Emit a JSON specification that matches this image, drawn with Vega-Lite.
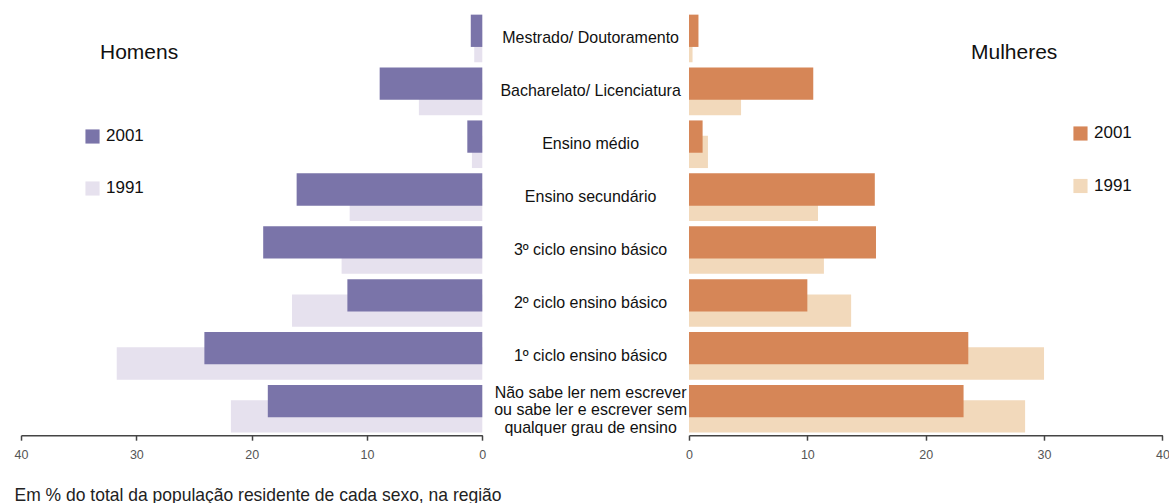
{
  "$schema": "https://vega.github.io/schema/vega-lite/v6.json",
  "padding": {"left": 14, "top": 12, "right": 0, "bottom": 0},
  "bounds": "flush",
  "spacing": 0,
  "config": {
    "view": {"stroke": null},
    "font": "Liberation Sans",
    "axis": {
      "domainColor": "#444", "domainWidth": 1.5, "tickColor": "#444", "tickWidth": 1.5, "tickSize": 5,
      "labelColor": "#555", "labelFontSize": 12.5, "labelPadding": 8, "grid": false, "labelFlush": false
    }
  },
  "resolve": {"scale": {"color": "independent"}, "legend": {"color": "independent"}},
  "data": {"values": [
    {"sexo": "Homens", "ano": "2001", "nivel": "Mestrado/ Doutoramento", "valor": 1.0},
    {"sexo": "Homens", "ano": "2001", "nivel": "Bacharelato/ Licenciatura", "valor": 8.9},
    {"sexo": "Homens", "ano": "2001", "nivel": "Ensino médio", "valor": 1.3},
    {"sexo": "Homens", "ano": "2001", "nivel": "Ensino secundário", "valor": 16.1},
    {"sexo": "Homens", "ano": "2001", "nivel": "3º ciclo ensino básico", "valor": 19.0},
    {"sexo": "Homens", "ano": "2001", "nivel": "2º ciclo ensino básico", "valor": 11.7},
    {"sexo": "Homens", "ano": "2001", "nivel": "1º ciclo ensino básico", "valor": 24.1},
    {"sexo": "Homens", "ano": "2001", "nivel": "Não sabe ler nem escrever\nou sabe ler e escrever sem\nqualquer grau de ensino", "valor": 18.6},
    {"sexo": "Homens", "ano": "1991", "nivel": "Mestrado/ Doutoramento", "valor": 0.7},
    {"sexo": "Homens", "ano": "1991", "nivel": "Bacharelato/ Licenciatura", "valor": 5.5},
    {"sexo": "Homens", "ano": "1991", "nivel": "Ensino médio", "valor": 0.9},
    {"sexo": "Homens", "ano": "1991", "nivel": "Ensino secundário", "valor": 11.5},
    {"sexo": "Homens", "ano": "1991", "nivel": "3º ciclo ensino básico", "valor": 12.2},
    {"sexo": "Homens", "ano": "1991", "nivel": "2º ciclo ensino básico", "valor": 16.5},
    {"sexo": "Homens", "ano": "1991", "nivel": "1º ciclo ensino básico", "valor": 31.7},
    {"sexo": "Homens", "ano": "1991", "nivel": "Não sabe ler nem escrever\nou sabe ler e escrever sem\nqualquer grau de ensino", "valor": 21.8},
    {"sexo": "Mulheres", "ano": "2001", "nivel": "Mestrado/ Doutoramento", "valor": 0.8},
    {"sexo": "Mulheres", "ano": "2001", "nivel": "Bacharelato/ Licenciatura", "valor": 10.5},
    {"sexo": "Mulheres", "ano": "2001", "nivel": "Ensino médio", "valor": 1.15},
    {"sexo": "Mulheres", "ano": "2001", "nivel": "Ensino secundário", "valor": 15.7},
    {"sexo": "Mulheres", "ano": "2001", "nivel": "3º ciclo ensino básico", "valor": 15.8},
    {"sexo": "Mulheres", "ano": "2001", "nivel": "2º ciclo ensino básico", "valor": 10.0},
    {"sexo": "Mulheres", "ano": "2001", "nivel": "1º ciclo ensino básico", "valor": 23.6},
    {"sexo": "Mulheres", "ano": "2001", "nivel": "Não sabe ler nem escrever\nou sabe ler e escrever sem\nqualquer grau de ensino", "valor": 23.2},
    {"sexo": "Mulheres", "ano": "1991", "nivel": "Mestrado/ Doutoramento", "valor": 0.3},
    {"sexo": "Mulheres", "ano": "1991", "nivel": "Bacharelato/ Licenciatura", "valor": 4.4},
    {"sexo": "Mulheres", "ano": "1991", "nivel": "Ensino médio", "valor": 1.6},
    {"sexo": "Mulheres", "ano": "1991", "nivel": "Ensino secundário", "valor": 10.9},
    {"sexo": "Mulheres", "ano": "1991", "nivel": "3º ciclo ensino básico", "valor": 11.4},
    {"sexo": "Mulheres", "ano": "1991", "nivel": "2º ciclo ensino básico", "valor": 13.7},
    {"sexo": "Mulheres", "ano": "1991", "nivel": "1º ciclo ensino básico", "valor": 30.0},
    {"sexo": "Mulheres", "ano": "1991", "nivel": "Não sabe ler nem escrever\nou sabe ler e escrever sem\nqualquer grau de ensino", "valor": 28.4}
  ]},
  "hconcat": [
    {
      "width": 461.3,
      "height": 423.2,
      "title": {"text": "Homens", "anchor": "start", "frame": "group", "offset": -68, "dx": 79, "fontSize": 21, "fontWeight": "normal", "baseline": "alphabetic", "color": "#111"},
      "transform": [{"filter": "datum.sexo === 'Homens'"}],
      "encoding": {
        "y": {"field": "nivel", "type": "nominal", "sort": null, "scale": {"paddingInner": 0.092, "paddingOuter": 0.046}, "axis": null},
        "yOffset": {"field": "ano", "type": "nominal", "scale": {"domain": ["2001", "1991"], "paddingInner": 0, "paddingOuter": 0.567}},
        "x": {"field": "valor", "type": "quantitative", "scale": {"domain": [0, 40], "reverse": true, "nice": false},
          "axis": {"values": [0, 10, 20, 30, 40], "title": "Em % do total da população residente de cada sexo, na região", "titleX": -7, "titleY": 65, "titleAlign": "left", "titleAnchor": "start", "titleBaseline": "alphabetic", "titleFontSize": 17.5, "titleFontWeight": "normal", "titleColor": "#222"}},
        "color": {"field": "ano", "type": "nominal", "scale": {"domain": ["2001", "1991"], "range": ["#7a74a9", "#e6e1ee"]},
          "legend": {"orient": "none", "legendX": 63, "legendY": 116, "title": null, "symbolType": "square", "symbolSize": 200, "symbolStrokeWidth": 0, "labelFontSize": 17, "labelColor": "#111", "rowPadding": 34, "labelOffset": 5, "padding": 0}}
      },
      "layer": [
        {
          "transform": [{"filter": "datum.ano === '1991'"}],
          "mark": {"type": "bar", "height": 32.3}
        },
        {
          "transform": [{"filter": "datum.ano === '2001'"}],
          "mark": {"type": "bar", "height": 32.3}
        }
      ]
    },
    {
      "width": 206,
      "height": 423.2,
      "transform": [{"filter": "datum.sexo === 'Homens' && datum.ano === '2001'"}],
      "encoding": {
        "y": {"field": "nivel", "type": "nominal", "sort": null, "scale": {"paddingInner": 0.092, "paddingOuter": 0.046}, "axis": null},
        "text": {"field": "nivel"}
      },
      "layer": [
        {
          "transform": [{"filter": "indexof(datum.nivel, '\\n') < 0"}],
          "mark": {"type": "text", "fontSize": 16, "dx": 4.6, "color": "#111", "baseline": "middle"}
        },
        {
          "transform": [{"filter": "indexof(datum.nivel, '\\n') >= 0"}],
          "mark": {"type": "text", "fontSize": 16, "lineBreak": "\n", "lineHeight": 17.5, "dx": 4.6, "dy": -16, "color": "#111", "baseline": "middle"}
        }
      ]
    },
    {
      "width": 473.4,
      "height": 423.2,
      "title": {"text": "Mulheres", "anchor": "start", "frame": "group", "offset": -68, "dx": 282, "fontSize": 21, "fontWeight": "normal", "baseline": "alphabetic", "color": "#111"},
      "transform": [{"filter": "datum.sexo === 'Mulheres'"}],
      "encoding": {
        "y": {"field": "nivel", "type": "nominal", "sort": null, "scale": {"paddingInner": 0.092, "paddingOuter": 0.046}, "axis": null},
        "yOffset": {"field": "ano", "type": "nominal", "scale": {"domain": ["2001", "1991"], "paddingInner": 0, "paddingOuter": 0.567}},
        "x": {"field": "valor", "type": "quantitative", "scale": {"domain": [0, 40], "nice": false},
          "axis": {"values": [0, 10, 20, 30, 40], "title": null}},
        "color": {"field": "ano", "type": "nominal", "scale": {"domain": ["2001", "1991"], "range": ["#d68657", "#f2d9bb"]},
          "legend": {"orient": "none", "legendX": 383, "legendY": 113, "title": null, "symbolType": "square", "symbolSize": 200, "symbolStrokeWidth": 0, "labelFontSize": 17, "labelColor": "#111", "rowPadding": 34.5, "labelOffset": 5, "padding": 0}}
      },
      "layer": [
        {
          "transform": [{"filter": "datum.ano === '1991'"}],
          "mark": {"type": "bar", "height": 32.3}
        },
        {
          "transform": [{"filter": "datum.ano === '2001'"}],
          "mark": {"type": "bar", "height": 32.3}
        }
      ]
    }
  ]
}
